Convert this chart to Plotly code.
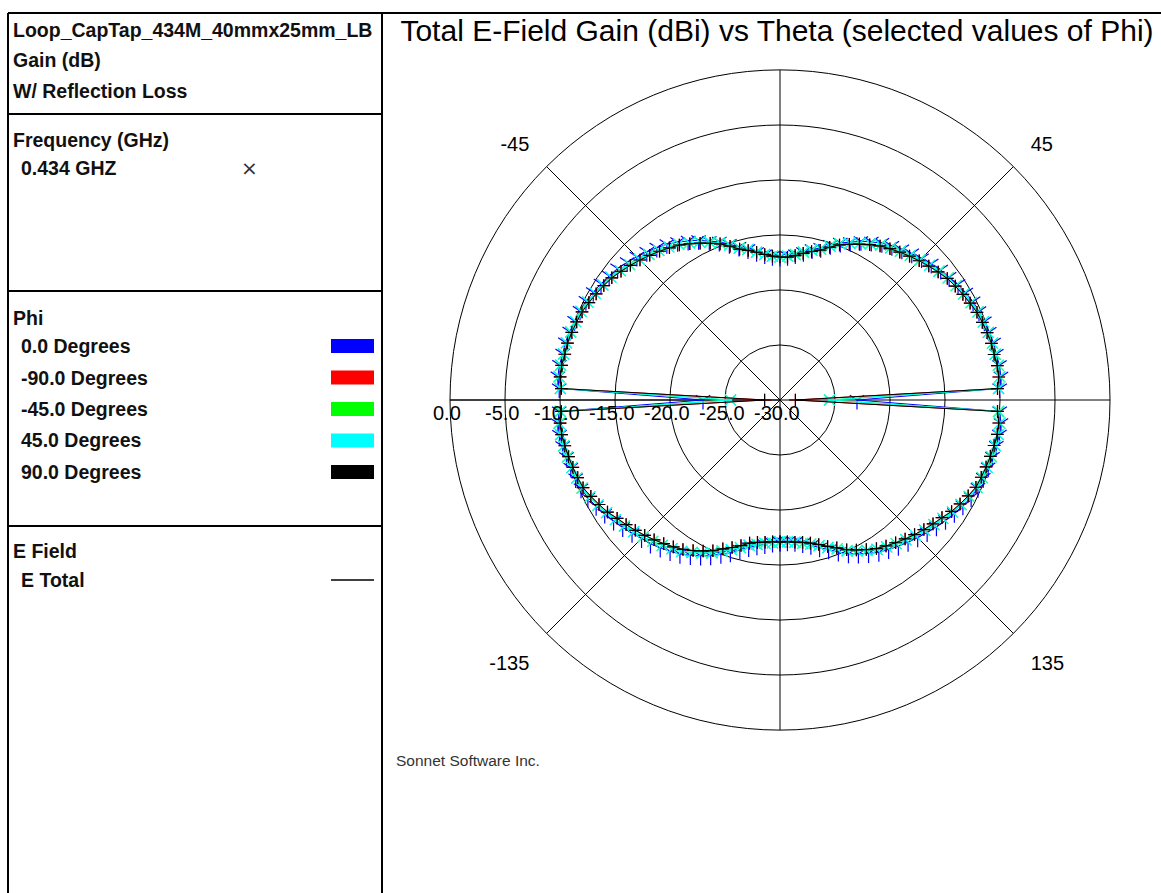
import plotly.graph_objects as go

W, H = 1161, 893

# Sampling grid of the far-field cut (degrees, 0 = broadside / top)
theta_deg = list(range(-180, 181, 3))

# Total E-field gain (dBi) for each phi cut, theta = -180 .. 180 in 3 deg steps
gain_phi_0 = [
    -17.1, -17.0, -16.8, -16.6, -16.3, -15.9, -15.4, -15.0, -14.5, -14.1,
    -13.7, -13.3, -13.0, -12.7, -12.4, -12.2, -11.9, -11.6, -11.3, -11.0,
    -10.7, -10.4, -10.2, -10.1, -10.0, -9.9, -9.8, -9.7, -9.7, -9.9,
    -23.0, -9.9, -9.7, -9.7, -9.8, -9.8, -9.9, -10.0, -10.1, -10.2,
    -10.4, -10.6, -10.8, -11.0, -11.3, -11.6, -11.9, -12.2, -12.5, -12.9,
    -13.3, -13.7, -14.2, -14.6, -15.1, -15.6, -16.0, -16.4, -16.7, -16.9,
    -17.0,
    -16.9, -16.7, -16.4, -16.0, -15.7, -15.2, -14.7, -14.3, -13.8, -13.4,
    -13.0, -12.7, -12.4, -12.1, -11.8, -11.5, -11.2, -11.0, -10.7, -10.5,
    -10.3, -10.2, -10.1, -10.0, -9.9, -9.9, -9.8, -9.8, -10.0, -23.0,
    -10.0, -9.8, -9.8, -9.9, -10.0, -10.1, -10.2, -10.3, -10.5, -10.8,
    -11.1, -11.4, -11.7, -12.0, -12.3, -12.6, -12.9, -13.2, -13.5, -13.9,
    -14.3, -14.7, -15.2, -15.7, -16.1, -16.5, -16.8, -17.0, -17.1, -17.1,
]

gain_phi_45 = [
    -17.1, -17.0, -16.9, -16.7, -16.5, -16.1, -15.7, -15.3, -14.8, -14.4,
    -14.0, -13.6, -13.3, -13.0, -12.7, -12.4, -12.1, -11.8, -11.5, -11.2,
    -10.9, -10.6, -10.3, -10.2, -10.1, -10.0, -9.9, -9.8, -9.8, -10.0,
    -25.5, -10.0, -9.8, -9.8, -9.9, -9.9, -10.0, -10.1, -10.2, -10.4,
    -10.6, -10.8, -11.0, -11.3, -11.6, -11.9, -12.2, -12.5, -12.8, -13.1,
    -13.5, -13.9, -14.3, -14.7, -15.2, -15.7, -16.0, -16.4, -16.7, -16.9,
    -17.0,
    -16.9, -16.7, -16.4, -16.1, -15.8, -15.3, -14.8, -14.4, -14.0, -13.6,
    -13.2, -12.9, -12.6, -12.3, -12.0, -11.7, -11.4, -11.1, -10.9, -10.7,
    -10.5, -10.3, -10.2, -10.1, -10.0, -10.0, -9.9, -9.9, -10.1, -25.5,
    -10.1, -9.9, -9.9, -10.0, -10.1, -10.2, -10.3, -10.4, -10.7, -11.0,
    -11.3, -11.7, -12.0, -12.3, -12.6, -12.9, -13.2, -13.5, -13.8, -14.2,
    -14.6, -15.0, -15.5, -15.9, -16.3, -16.6, -16.8, -17.0, -17.1, -17.1,
]

gain_phi_90 = [
    -17.1, -17.1, -17.0, -16.9, -16.7, -16.3, -15.9, -15.5, -15.0, -14.6,
    -14.2, -13.8, -13.5, -13.2, -12.9, -12.6, -12.3, -12.0, -11.7, -11.3,
    -11.0, -10.7, -10.4, -10.3, -10.2, -10.1, -10.0, -9.9, -9.9, -10.1,
    -28.6, -10.1, -9.9, -9.9, -10.0, -10.0, -10.1, -10.2, -10.3, -10.5,
    -10.7, -10.9, -11.1, -11.4, -11.7, -12.0, -12.3, -12.6, -12.9, -13.2,
    -13.6, -14.0, -14.4, -14.8, -15.3, -15.8, -16.1, -16.4, -16.7, -16.9,
    -17.0,
    -17.0, -16.8, -16.5, -16.2, -15.9, -15.4, -14.9, -14.5, -14.1, -13.7,
    -13.3, -13.0, -12.7, -12.4, -12.1, -11.8, -11.5, -11.2, -11.0, -10.8,
    -10.6, -10.4, -10.3, -10.2, -10.1, -10.1, -10.0, -10.0, -10.2, -28.6,
    -10.2, -10.0, -10.0, -10.1, -10.2, -10.3, -10.4, -10.5, -10.8, -11.1,
    -11.4, -11.8, -12.1, -12.4, -12.7, -13.0, -13.3, -13.6, -13.9, -14.3,
    -14.7, -15.1, -15.6, -16.0, -16.4, -16.7, -16.9, -17.0, -17.1, -17.1,
]

# The -90 / -45 cuts coincide with the +90 / +45 cuts for this symmetric loop
gain_phi_m90 = list(gain_phi_90)
gain_phi_m45 = list(gain_phi_45)

phi_labels = ["0.0 Degrees", "-90.0 Degrees", "-45.0 Degrees", "45.0 Degrees", "90.0 Degrees"]
phi_gains = [gain_phi_0, gain_phi_m90, gain_phi_m45, gain_phi_45, gain_phi_90]
phi_colors = ["#0000FF", "#FF0000", "#00FF00", "#00FFFF", "#000000"]
phi_symbols = ["y-down-open", "cross-thin-open", "x-thin-open", "x-thin-open", "cross-thin-open"]
phi_marker_sizes = [12, 9, 11, 11, 9]

r_min, r_max = -30, 0
radial_ticks = [0, -5, -10, -15, -20, -25, -30]
angle_ticks = [0, 45, 90, 135, 180, 225, 270, 315]
angle_text = ["", "45", "", "135", "", "-135", "", "-45"]

header_lines = ["Loop_CapTap_434M_40mmx25mm_LB", "Gain (dB)", "W/ Reflection Loss"]
freq_header = "Frequency (GHz)"
freq_items = ["0.434 GHZ"]
field_header = "E Field"
field_items = ["E Total"]


def px(x):
    return x / W


def py(y):
    return 1 - y / H


fig = go.Figure()
for lab, g, col, sym, ms in zip(phi_labels, phi_gains, phi_colors, phi_symbols, phi_marker_sizes):
    fig.add_trace(go.Scatterpolar(
        r=g, theta=theta_deg, name=lab, mode="lines+markers",
        line=dict(color=col, width=1),
        marker=dict(symbol=sym, size=ms, color=col, line=dict(color=col, width=1.2)),
        showlegend=False,
    ))

# polar plot: centre (780, 400), outer radius 330 px
cx, cy, R = 780, 400, 330
fig.update_layout(
    width=W, height=H,
    margin=dict(l=0, r=0, t=0, b=0),
    paper_bgcolor="white",
    plot_bgcolor="white",
    font=dict(family="Liberation Sans, Arial", color="black"),
    polar=dict(
        domain=dict(x=[px(cx - R), px(cx + R)], y=[py(cy + R), py(cy - R)]),
        bgcolor="white",
        hole=0,
        radialaxis=dict(
            range=[r_min, r_max], tickvals=radial_ticks,
            angle=180, showticklabels=False,
            showline=True, linecolor="black", linewidth=1,
            gridcolor="black", gridwidth=1,
            ticks="",
            layer="below traces",
        ),
        angularaxis=dict(
            rotation=90, direction="clockwise",
            tickmode="array", tickvals=angle_ticks, ticktext=angle_text,
            showline=True, linecolor="black", linewidth=1,
            gridcolor="black", gridwidth=1,
            ticks="outside", ticklen=20, tickcolor="rgba(0,0,0,0)",
            tickfont=dict(size=20, color="black"),
            layer="below traces",
        ),
    ),
    title=dict(
        text="Total E-Field Gain (dBi) vs Theta (selected values of Phi)",
        x=px(777), y=py(30), xanchor="center", yanchor="middle",
        font=dict(size=30, family="Liberation Sans, Arial", color="black"),
    ),
)

shapes = []
line_k = dict(color="black", width=2)
# panel frame
shapes.append(dict(type="line", xref="paper", yref="paper", x0=px(8), x1=px(8), y0=py(13), y1=py(H), line=line_k))
shapes.append(dict(type="line", xref="paper", yref="paper", x0=px(382), x1=px(382), y0=py(13), y1=py(H), line=line_k))
shapes.append(dict(type="line", xref="paper", yref="paper", x0=px(8), x1=px(W), y0=py(13), y1=py(13), line=line_k))
for yy in (114, 291, 526):
    shapes.append(dict(type="line", xref="paper", yref="paper", x0=px(8), x1=px(382), y0=py(yy), y1=py(yy), line=line_k))

annotations = []

# radial tick labels, laid out horizontally under the 180-degree radius
for v in radial_ticks:
    xr = cx - (v - r_min) / (r_max - r_min) * R
    annotations.append(dict(xref="paper", yref="paper", x=px(xr - 3), y=py(413), text=f"{v:.1f}",
                            showarrow=False, xanchor="center", yanchor="middle",
                            font=dict(size=20, family="Liberation Sans, Arial", color="black")))

lab_font = dict(size=19.5, family="Liberation Sans, Arial", color="#111111")


def add_text(x, y, text, font=lab_font):
    annotations.append(dict(xref="paper", yref="paper", x=px(x), y=py(y), text=text,
                            showarrow=False, xanchor="left", yanchor="middle", font=font))


for i, t in enumerate(header_lines):
    add_text(11, 30 + i * 30.5, f"<b>{t}</b>")
add_text(11, 140, f"<b>{freq_header}</b>")
for i, t in enumerate(freq_items):
    add_text(19, 168 + i * 31, f"<b>{t}</b>")
    annotations.append(dict(xref="paper", yref="paper", x=px(249), y=py(168 + i * 31), text="×",
                            showarrow=False, xanchor="center", yanchor="middle",
                            font=dict(size=20, family="DejaVu Sans", color="#333333")))

add_text(11, 318, "<b>Phi</b>")
for i, (lab, col) in enumerate(zip(phi_labels, phi_colors)):
    yy = 346 + i * 31.5
    add_text(19, yy, f"<b>{lab}</b>")
    shapes.append(dict(type="rect", xref="paper", yref="paper", x0=px(331), x1=px(374),
                       y0=py(yy + 7), y1=py(yy - 7), fillcolor=col, line=dict(width=0)))

add_text(11, 551, f"<b>{field_header}</b>")
for i, t in enumerate(field_items):
    yy = 580 + i * 31
    add_text(19, yy, f"<b>{t}</b>")
    shapes.append(dict(type="line", xref="paper", yref="paper", x0=px(331), x1=px(374),
                       y0=py(yy), y1=py(yy), line=dict(color="black", width=1.3)))

annotations.append(dict(xref="paper", yref="paper", x=px(394), y=py(760), text="Sonnet Software Inc.",
                        showarrow=False, xanchor="left", yanchor="middle",
                        font=dict(size=15.5, family="Liberation Sans, Arial", color="#333333")))

fig.update_layout(shapes=shapes, annotations=annotations)
fig.write_html("out.html")
